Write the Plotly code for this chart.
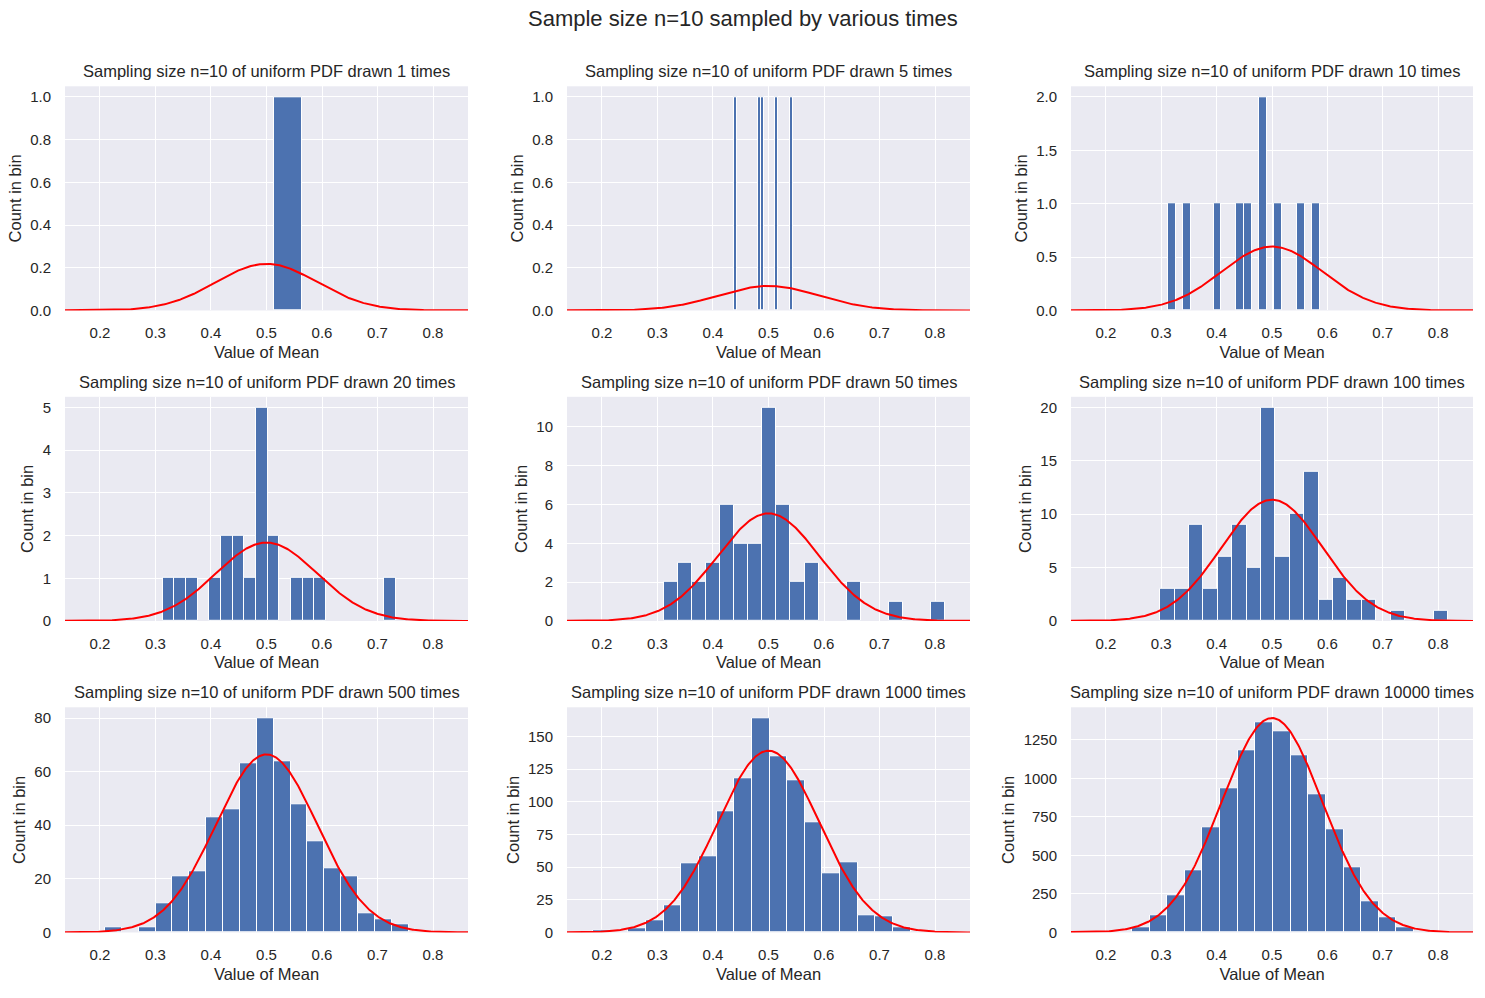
import numpy as np
import plotly.graph_objects as go

# ---------------- data ----------------
draws = [1, 5, 10, 20, 50, 100, 500, 1000, 10000]

bin_start = [0.0135, 0.4385, 0.3125, 0.313, 0.3113, 0.2982, 0.209, 0.1838, 0.247]
bin_width = [0.05, 0.00525, 0.0137, 0.021, 0.02536, 0.026, 0.0304, 0.0318, 0.03185]

counts_1 = [0, 0, 0, 0, 0, 0, 0, 0, 0, 0, 1, 0, 0, 0, 0, 0, 0, 0, 0, 0]
counts_5 = [1, 0, 0, 0, 0, 0, 0, 0, 1, 1, 0, 0, 0, 0, 1, 0, 0, 0, 0, 1]
counts_10 = [1, 0, 1, 0, 0, 0, 1, 0, 0, 1, 1, 0, 2, 0, 1, 0, 0, 1, 0, 1]
counts_20 = [1, 1, 1, 0, 1, 2, 2, 1, 5, 2, 0, 1, 1, 1, 0, 0, 0, 0, 0, 1]
counts_50 = [2, 3, 2, 3, 6, 4, 4, 11, 6, 2, 3, 0, 0, 2, 0, 0, 1, 0, 0, 1]
counts_100 = [3, 3, 9, 3, 6, 9, 5, 20, 6, 10, 14, 2, 4, 2, 2, 0, 1, 0, 0, 1]
counts_500 = [2, 0, 2, 11, 21, 23, 43, 46, 63, 80, 64, 48, 34, 24, 21, 7, 5, 3]
counts_1000 = [2, 0, 3, 9, 21, 53, 58, 93, 118, 164, 135, 116, 84, 45, 54, 13, 12, 4]
counts_10000 = [34, 111, 239, 405, 682, 936, 1185, 1365, 1307, 1153, 898, 667, 424, 200, 98, 34]

all_counts = [counts_1, counts_5, counts_10, counts_20, counts_50,
              counts_100, counts_500, counts_1000, counts_10000]

sample_size = 10
mu = 0.5
sigma = np.sqrt(1.0 / 12.0 / sample_size)

x_ticks = [0.2, 0.3, 0.4, 0.5, 0.6, 0.7, 0.8]
y_dticks = [0.2, 0.2, 0.5, 1, 2, 5, 20, 25, 250]
y_formats = [".1f", ".1f", ".1f", "d", "d", "d", "d", "d", "d"]
x_range = [0.137, 0.863]

# ---------------- styling / layout ----------------
W, H = 1485, 998
col_px = [(65, 468), (567, 970), (1071, 1473)]
row_px = [(87, 313), (400, 626), (713, 940)]

BAR = "#4C72B0"
BG = "#EAEAF2"
TXT = "#262626"
FONT = "Liberation Sans, Arial, Helvetica, sans-serif"

fig = go.Figure()
annotations = []
layout_axes = {}

xc = np.linspace(0.1, 0.9, 500)

for i in range(9):
    r, c = divmod(i, 3)
    k = "" if i == 0 else str(i + 1)
    xa, ya = "x" + k, "y" + k
    counts = np.array(all_counts[i], dtype=float)
    bw = bin_width[i]
    edges = bin_start[i] + bw * np.arange(len(counts))
    centers = edges + bw / 2
    nz = counts > 0
    fig.add_trace(go.Bar(
        x=centers[nz], y=counts[nz], width=bw,
        marker=dict(color=BAR, line=dict(color="white", width=1)),
        xaxis=xa, yaxis=ya, showlegend=False, hoverinfo="x+y"))
    curve = draws[i] * bw * np.exp(-0.5 * ((xc - mu) / sigma) ** 2) / (sigma * np.sqrt(2 * np.pi))
    fig.add_trace(go.Scatter(
        x=xc, y=curve, mode="lines", line=dict(color="red", width=2),
        xaxis=xa, yaxis=ya, showlegend=False, hoverinfo="skip"))

    ymax = 1.05 * max(counts.max(), curve.max())
    x0, x1 = col_px[c]
    t0, t1 = row_px[r]
    dx = [x0 / W, x1 / W]
    dy = [1 - t1 / H, 1 - t0 / H]

    layout_axes["xaxis" + k] = dict(
        domain=dx, anchor=ya, range=x_range, tickvals=x_ticks,
        tickformat=".1f", showgrid=True, gridcolor="white", gridwidth=1.3,
        zeroline=False, showline=False, ticks="", ticklabelstandoff=12,
        tickfont=dict(size=15, color=TXT, family=FONT),
        title=dict(text="Value of Mean", standoff=5,
                   font=dict(size=16.5, color=TXT, family=FONT)),
        fixedrange=True)
    layout_axes["yaxis" + k] = dict(
        domain=dy, anchor=xa, range=[0, ymax], tick0=0, dtick=y_dticks[i],
        tickformat=y_formats[i], showgrid=True, gridcolor="white", gridwidth=1.3,
        zeroline=False, showline=False, ticks="", ticklabelstandoff=13,
        tickfont=dict(size=15, color=TXT, family=FONT),
        title=dict(text="Count in bin", standoff=4,
                   font=dict(size=16.5, color=TXT, family=FONT)),
        fixedrange=True)

    annotations.append(dict(
        text=f"Sampling size n={sample_size} of uniform PDF drawn {draws[i]} times",
        x=(dx[0] + dx[1]) / 2, y=dy[1], xref="paper", yref="paper",
        xanchor="center", yanchor="bottom", yshift=4, showarrow=False,
        font=dict(size=16.5, color=TXT, family=FONT)))

annotations.append(dict(
    text=f"Sample size n={sample_size} sampled by various times",
    x=0.5, y=1 - 19 / H, xref="paper", yref="paper", xanchor="center",
    yanchor="middle", showarrow=False,
    font=dict(size=22, color=TXT, family=FONT)))

fig.update_layout(
    width=W, height=H, margin=dict(l=0, r=0, t=0, b=0),
    paper_bgcolor="white", plot_bgcolor=BG, bargap=0,
    font=dict(family=FONT, color=TXT),
    annotations=annotations, **layout_axes)

fig.write_html("out.html", config={"displayModeBar": False},
               post_script="document.body.style.margin='0px';document.body.style.overflow='hidden';")
